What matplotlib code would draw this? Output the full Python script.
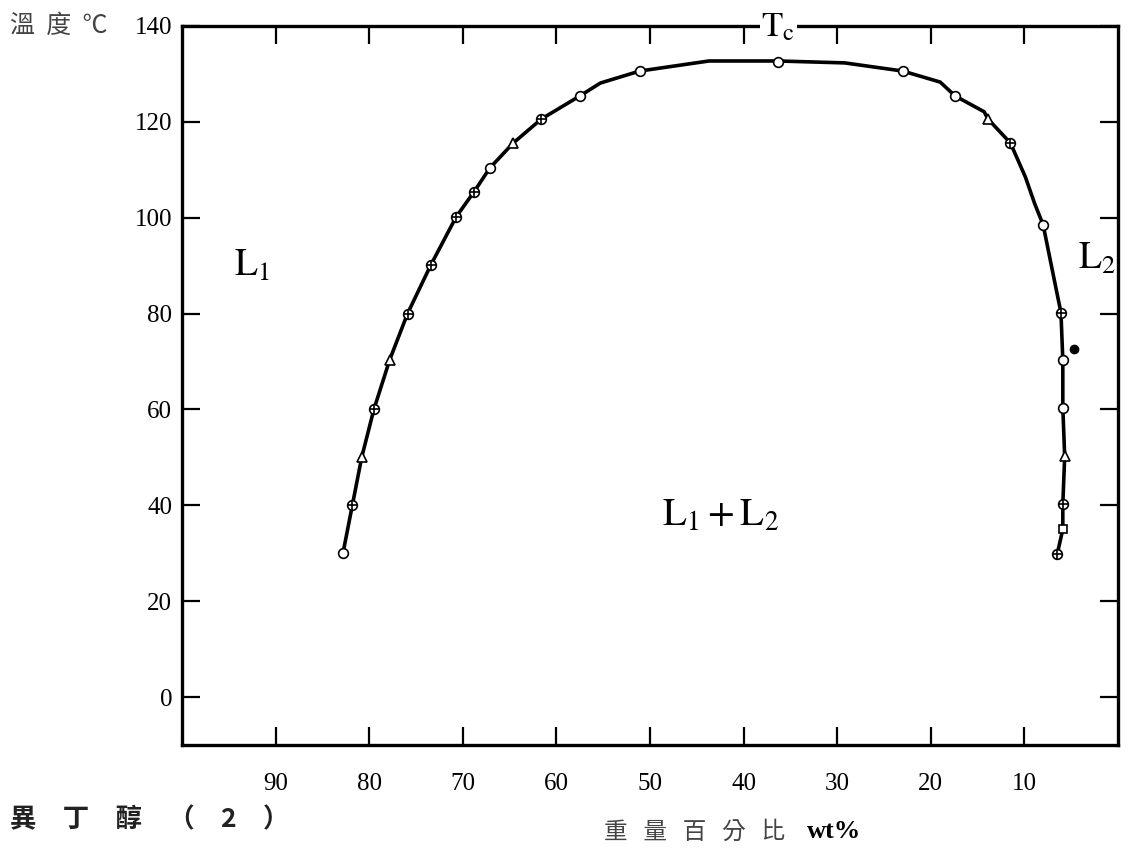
import numpy as np
import matplotlib.pyplot as plt

plt.rcParams['mathtext.fontset'] = 'stix'

# coexistence curve (wt% isobutanol, temperature in C)
curve_x = [82.8, 81.8, 80.8, 79.5, 77.8, 75.9, 73.4, 70.7, 68.8, 67.1, 64.6, 61.6,
           57.5, 55.3, 51.1, 43.7, 36.3, 29.2, 23.0, 19.0, 17.4, 14.3, 13.9, 11.5,
           9.9, 8.9, 8.0, 7.1, 6.1, 5.9, 5.9, 5.7, 5.9, 5.9, 6.5]
curve_t = [30.0, 40.0, 50.0, 60.0, 70.4, 80.0, 90.2, 100.2, 105.4, 110.4, 115.6, 120.6,
           125.4, 128.1, 130.6, 132.7, 132.7, 132.3, 130.6, 128.3, 125.4, 122.1, 120.6, 115.6,
           108.5, 102.9, 98.5, 89.8, 80.2, 70.4, 60.4, 50.2, 40.2, 35.0, 29.8]

# measured points by marker style
open_x = [82.8, 67.1, 57.5, 51.1, 36.3, 23.0, 17.4, 8.0, 5.9, 5.9]
open_t = [30.0, 110.4, 125.4, 130.6, 132.5, 130.6, 125.4, 98.5, 70.4, 60.4]
cross_x = [81.8, 79.5, 75.9, 73.4, 70.7, 68.8, 61.6, 11.5, 6.1, 5.9, 6.5]
cross_t = [40.0, 60.0, 80.0, 90.2, 100.2, 105.4, 120.6, 115.6, 80.2, 40.2, 29.8]
tri_x = [80.8, 77.8, 64.6, 13.9, 5.7]
tri_t = [50.0, 70.4, 115.6, 120.6, 50.2]
sq_x = [5.9]
sq_t = [35.0]
dot_x = [4.7]
dot_t = [72.7]

xticks = [90, 80, 70, 60, 50, 40, 30, 20, 10]
yticks = [0, 20, 40, 60, 80, 100, 120, 140]

fig = plt.figure(figsize=(11.33, 8.55), dpi=100)
ax = fig.add_axes([0.1606, 0.1287, 0.8262, 0.8409])

ax.plot(curve_x, curve_t, color='black', lw=2.6, zorder=2)
ms = 7
ax.plot(open_x, open_t, 'o', ms=ms, mfc='white', mec='black', mew=1.2, zorder=3)
ax.plot(cross_x, cross_t, 'o', ms=ms, mfc='white', mec='black', mew=1.2, zorder=3)
ax.plot(cross_x, cross_t, '+', ms=ms, color='black', mew=1.2, zorder=4)
ax.plot(tri_x, tri_t, '^', ms=ms, mfc='white', mec='black', mew=1.2, zorder=3)
ax.plot(sq_x, sq_t, 's', ms=6, mfc='white', mec='black', mew=1.2, zorder=3)
ax.plot(dot_x, dot_t, 'o', ms=6, color='black', zorder=3)

ax.set_xlim(100, 0)
ax.set_ylim(-10, 140)
ax.set_xticks(xticks)
ax.set_yticks(yticks)
ax.tick_params(direction='in', length=13, width=1.6, top=True, right=True,
               labelfontfamily='Liberation Serif', labelsize=18)
ax.tick_params(axis='x', pad=20)
ax.tick_params(axis='y', pad=7)
for s in ax.spines.values():
    s.set_linewidth(2.4)

ax.text(36.3, 140, r'$\mathrm{T_c}$', fontsize=25, ha='center', va='center',
        bbox=dict(facecolor='white', edgecolor='none', pad=1), zorder=5, clip_on=False)
ax.text(92.5, 90, r'$\mathrm{L_1}$', fontsize=27, ha='center', va='center')
ax.text(2.3, 91.5, r'$\mathrm{L_2}$', fontsize=27, ha='center', va='center')
ax.text(42.5, 38, r'$\mathrm{L_1+L_2}$', fontsize=28, ha='center', va='center')

cjk = ['Noto Sans CJK TC', 'DejaVu Sans']
fig.text(0.009, 0.970, '溫  度  ℃', fontsize=18, family=cjk, va='center', color='#444444')
fig.text(0.009, 0.041, '異　丁　醇　（　2　）', fontsize=19, family=cjk, va='center',
         fontweight='bold', color='#222222')
fig.text(0.533, 0.027, '重   量   百   分   比', fontsize=17, family=cjk, va='center',
         color='#444444')
fig.text(0.712, 0.027, 'wt%', fontsize=19, family='Liberation Serif', fontweight='bold',
         va='center')

fig.savefig('out.png', dpi=100)
